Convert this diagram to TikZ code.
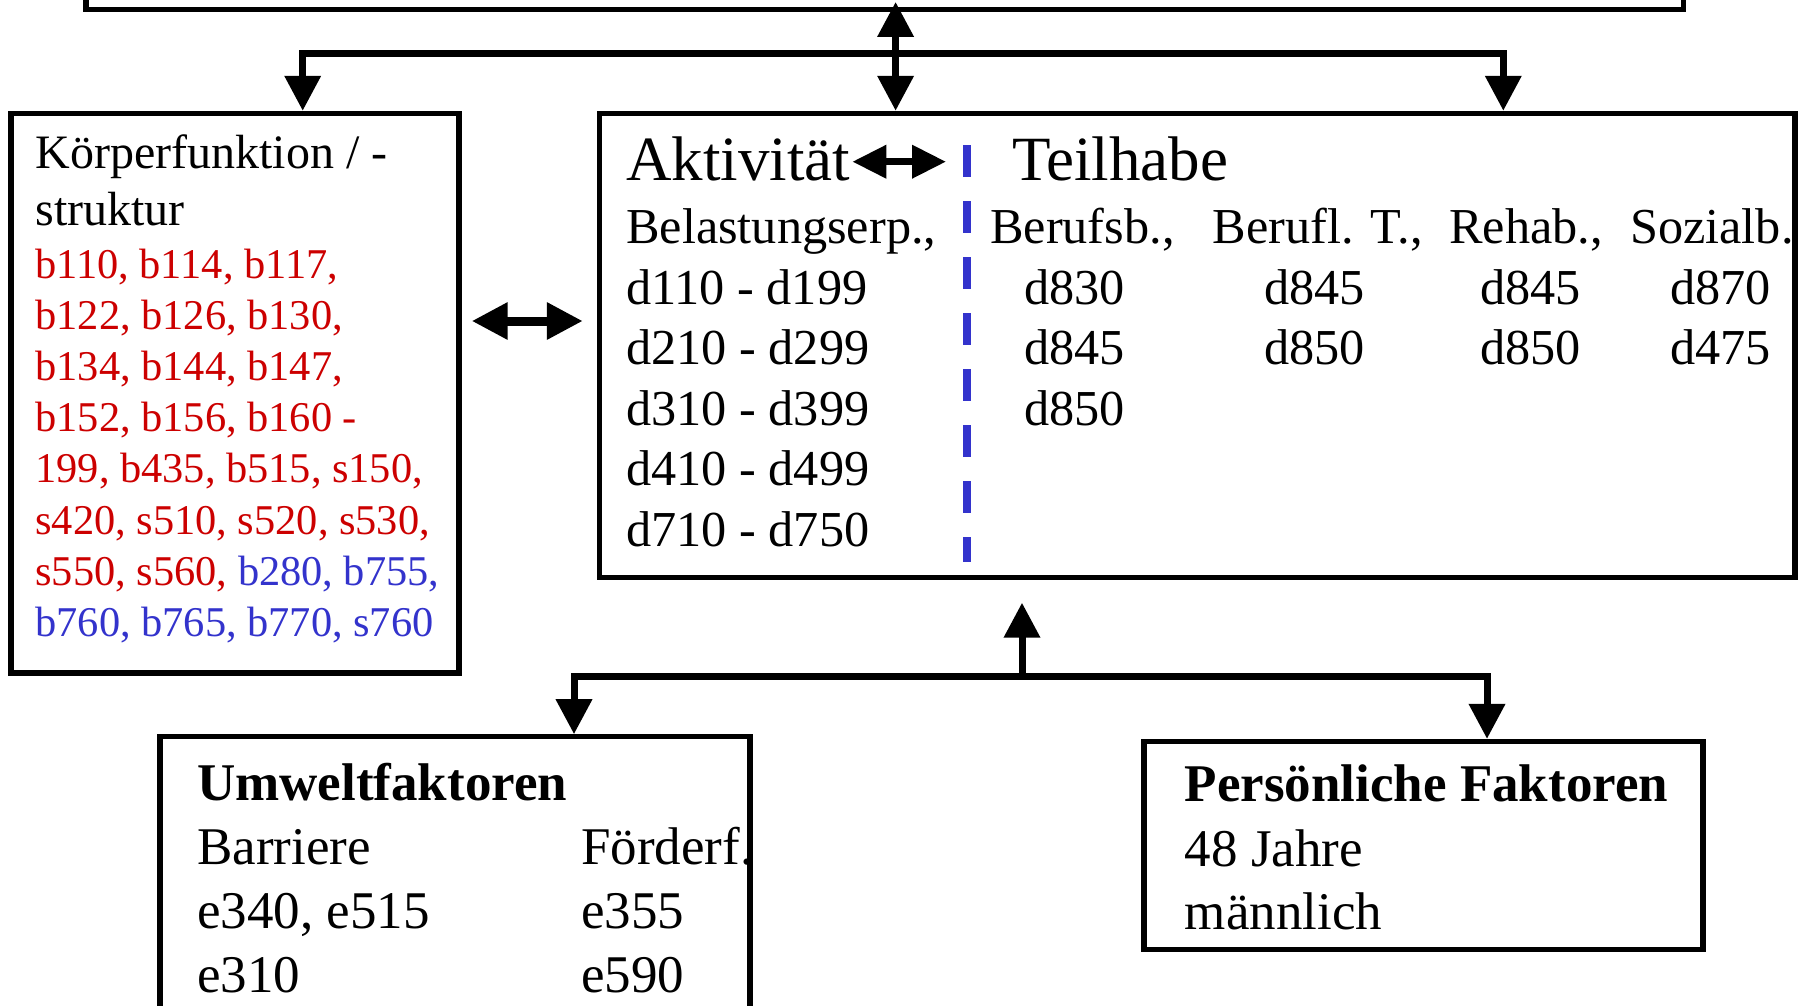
\documentclass[tikz,border=0pt]{standalone}
\usepackage{fontspec}
\setmainfont{Liberation Serif}
\usetikzlibrary{arrows.meta}
\definecolor{icfred}{RGB}{204,0,0}
\definecolor{icfblue}{RGB}{51,51,204}
\begin{document}
\begin{tikzpicture}[x=1pt,y=-1pt,
  box/.style={draw=black, line width=5.3pt, inner sep=0pt},
  conn/.style={line width=7pt, line join=miter, -{Triangle[length=35pt,width=35pt]}},
  txt/.style={anchor=base west, inner sep=0pt},
  fkf/.style={txt, font=\fontsize{48}{57}\selectfont},
  fcode/.style={txt, font=\fontsize{42.4}{51}\selectfont, text=icfred},
  fhead/.style={txt, font=\fontsize{63}{75}\selectfont},
  fbody/.style={txt, font=\fontsize{50.3}{60}\selectfont},
  fbot/.style={txt, font=\fontsize{53}{64}\selectfont},
  fbotb/.style={txt, font=\fontsize{53}{64}\selectfont\bfseries},
  dbl/.style={line width=9pt, {Triangle[length=36pt,width=35pt]}-{Triangle[length=36pt,width=35pt]}},
  dblsmall/.style={line width=7pt, {Triangle[length=34pt,width=32pt]}-{Triangle[length=34pt,width=32pt]}},
  sep/.style={draw=icfblue, line width=8pt, dash pattern=on 31.7pt off 24.3pt},
]
\useasboundingbox (0,0) rectangle (1798,1005);

% boxes
\node[box, minimum width=1597.4pt, minimum height=109.3pt] (gp) at (884.7,-45.35) {};
\node[box, minimum width=448pt, minimum height=559.6pt] (kf) at (235,393.2) {};
\node[box, minimum width=1195.5pt, minimum height=464.1pt] (akt) at (1197.25,345.45) {};
\node[box, minimum width=590pt, minimum height=363.2pt] (uf) at (455,918.4) {};
\node[box, minimum width=559pt, minimum height=208pt] (pf) at (1423.5,845.5) {};

% upper connectors
\coordinate (j1) at (895.6,53);
\coordinate (bl) at (302.7,53);
\coordinate (br) at (1503.3,53);
\draw[conn] (j1) -| (bl |- kf.north);
\draw[conn] (j1) -| (br |- akt.north);
\draw[conn] (j1) -- (j1 |- akt.north);
\draw[conn, shorten >=-10pt] (j1) -- (j1 |- gp.south);

% lower connectors
\coordinate (j2) at (1022,676.7);
\coordinate (ufx) at (574,676.7);
\coordinate (pfx) at (1487,676.7);
\coordinate (upend) at (1022,602.7);
\draw[conn] (j2) -| (ufx |- uf.north);
\draw[conn] (j2) -| (pfx |- pf.north);
\draw[conn] (j2) -- (upend);

% kf <-> akt
\coordinate (mkf) at (0,321);
\draw[dbl, shorten <=10pt, shorten >=14pt] (kf.east |- mkf) -- (akt.west |- mkf);

% Koerperfunktion text
\node[fkf] (kf1) at (35.2,168) {Körperfunktion / -};
\node[fkf] (kf2) at (35.2,225) {struktur};
\foreach \t [count=\i] in {%
  {b110, b114, b117,},
  {b122, b126, b130,},
  {b134, b144, b147,},
  {b152, b156, b160 -},
  {199, b435, b515, s150,},
  {s420, s510, s520, s530,},
  {s550, s560, \textcolor{icfblue}{b280, b755,}},
  {\textcolor{icfblue}{b760, b765, b770, s760}}}
  \node[fcode] (kfc\i) at (35.2,{278+(\i-1)*51.2}) {\t};

% Aktivitaet / Teilhabe
\node[fhead] (aktT) at (626,180) {Aktivität};
\node[fhead] (teilT) at (1012,180) {Teilhabe};
\coordinate (dtop) at (967,145);
\coordinate (dbot) at (967,562);
\draw[sep] (dtop) -- (dbot);
\coordinate (ma) at (0,161.7);
\draw[dblsmall, shorten <=2pt, shorten >=21pt] (aktT.east |- ma) -- (dtop |- ma);

\node[fbody] (bel) at (626,243.3) {Belastungserp.,};
\foreach \t [count=\i] in {d110 - d199, d210 - d299, d310 - d399, d410 - d499, d710 - d750}
  \node[fbody] (dr\i) at (626,{304+(\i-1)*60.5}) {\t};

\node[fbody] (h1) at (990,243.3) {Berufsb.,};
\node[fbody] (h2) at (1212.5,243.3) {Berufl. T.,};
\node[fbody] (h3) at (1449,243.3) {Rehab.,};
\node[fbody] (h4) at (1630,243.3) {Sozialb.};

\node[fbody] (c11) at (1024,304) {d830};
\node[fbody] (c12) at (1024,364.5) {d845};
\node[fbody] (c13) at (1024,425) {d850};
\node[fbody] (c21) at (1264,304) {d845};
\node[fbody] (c22) at (1264,364.5) {d850};
\node[fbody] (c31) at (1480,304) {d845};
\node[fbody] (c32) at (1480,364.5) {d850};
\node[fbody] (c41) at (1670,304) {d870};
\node[fbody] (c42) at (1670,364.5) {d475};

% Umweltfaktoren
\node[fbotb] (ufT) at (197,800.7) {Umweltfaktoren};
\node[fbot] (uf1) at (197,864.3) {Barriere};
\node[fbot] (uf2) at (581,864.3) {Förderf.};
\node[fbot] (uf3) at (197,928.3) {e340, e515};
\node[fbot] (uf4) at (581,928.3) {e355};
\node[fbot] (uf5) at (197,992) {e310};
\node[fbot] (uf6) at (581,992) {e590};

% Persoenliche Faktoren
\node[fbotb] (pfT) at (1184.6,801.7) {Persönliche Faktoren};
\node[fbot] (pf1) at (1184.6,866) {48 Jahre};
\node[fbot] (pf2) at (1184.6,929) {männlich};
\end{tikzpicture}
\end{document}
